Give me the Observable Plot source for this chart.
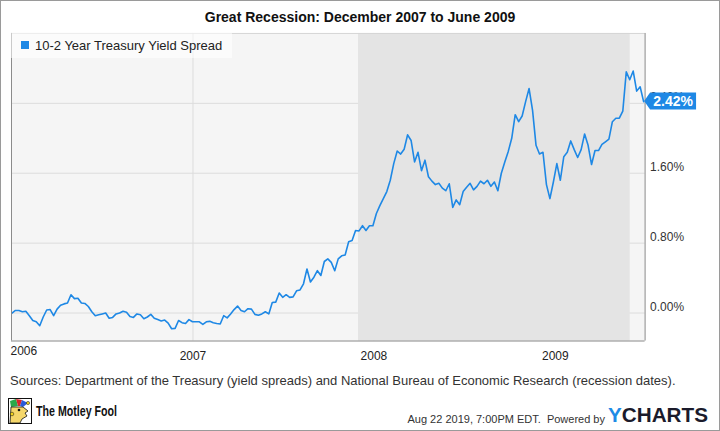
<!DOCTYPE html>
<html><head><meta charset="utf-8">
<script src="https://cdn.jsdelivr.net/npm/d3@7"></script>
<script src="https://cdn.jsdelivr.net/npm/@observablehq/plot@0.6"></script>
<style>
html,body{margin:0;padding:0;background:#fff;}
#wrap{position:relative;width:720px;height:431px;box-sizing:border-box;border:1px solid #9a9a9a;font-family:"Liberation Sans",Arial,sans-serif;overflow:hidden;background:#fff;}
#title{position:absolute;left:-1px;top:8px;width:720px;text-align:center;font-weight:bold;font-size:14px;color:#111;}
#chart{position:absolute;left:-1px;top:-1px;}
#legend{position:absolute;left:10px;top:32px;width:221px;height:25px;background:rgba(255,255,255,0.55);}
#legend .sw{position:absolute;left:10px;top:8px;width:8px;height:8px;background:#1e88e5;}
#legend .lb{position:absolute;left:24px;top:5px;font-size:13px;color:#222;white-space:nowrap;line-height:15px;}
#sources{position:absolute;left:9px;top:372px;font-size:13px;color:#333;white-space:nowrap;line-height:16px;}
#stamp{position:absolute;right:114px;top:411px;font-size:11px;color:#333;white-space:nowrap;line-height:14px;}
#logos{position:absolute;left:-1px;top:-1px;}
</style></head>
<body>
<div id="wrap">
  <div id="chart"></div>
  <div id="title">Great Recession: December 2007 to June 2009</div>
  <div id="legend"><div class="sw"></div><div class="lb">10-2 Year Treasury Yield Spread</div></div>
  <div id="sources">Sources: Department of the Treasury (yield spreads) and National Bureau of Economic Research (recession dates).</div>
  <div id="stamp">Aug 22 2019, 7:00PM EDT.&nbsp; Powered by</div>
  <svg id="logos" width="720" height="431">
    <g transform="translate(8,398)">
      <rect x="0.5" y="0.5" width="23" height="25" fill="#fff" stroke="#111"/>
      <path d="M2,3 L8,1 L10,8 L3,9 Z" fill="#2aa84a"/>
      <path d="M8,1 L14,2 L12,8 L10,8 Z" fill="#d8262c"/>
      <path d="M14,2 L20,5 L15,9 L12,8 Z" fill="#2a5bd8"/>
      <circle cx="20" cy="5" r="1.6" fill="#f2d21b" stroke="#111" stroke-width="0.5"/>
      <path d="M3,9 L15,9 L20,13 L17,15 L19,18 L14,21 L12,25 L2,25 Z" fill="#f5d76b" stroke="#111" stroke-width="0.8"/>
      <circle cx="11" cy="12" r="1.3" fill="#111"/>
      <circle cx="4" cy="16" r="1.8" fill="#f2d21b" stroke="#111" stroke-width="0.5"/>
    </g>
    <text x="36" y="416" font-family="Liberation Sans, Arial, sans-serif" font-weight="bold" font-size="15" fill="#111" textLength="81" lengthAdjust="spacingAndGlyphs">The Motley Fool</text>
    <text x="608" y="421.5" font-family="Liberation Sans, Arial, sans-serif" font-weight="bold" font-size="20" textLength="100" lengthAdjust="spacingAndGlyphs"><tspan fill="#1e8be6">Y</tspan><tspan fill="#1b1b2b">CHARTS</tspan></text>
  </svg>
</div>
<script>
// ---- data (weekly 10-2 year Treasury spread, %) ----
const startDate = "2006-01-01";
const spread = [
  0.00, 0.03, 0.03, 0.015, 0.02, -0.03, -0.085, -0.10, -0.145, -0.045,
  0.035, 0.04, -0.03, 0.045, 0.09, 0.105, 0.115, 0.21, 0.165, 0.17,
  0.115, 0.11, 0.075, 0.015, -0.03, -0.02, -0.01, 0.00, -0.06, -0.05,
  -0.01, 0.00, 0.02, 0.01, -0.04, -0.05, -0.01, -0.02, -0.065, -0.045,
  -0.015, -0.06, -0.075, -0.09, -0.08, -0.115, -0.18, -0.175, -0.085, -0.11,
  -0.12, -0.075, -0.10, -0.10, -0.10, -0.13, -0.10, -0.095, -0.11, -0.12,
  -0.125, -0.03, -0.055, -0.01, 0.04, 0.08, 0.03, 0.015, 0.05, 0.045,
  -0.015, -0.025, -0.01, 0.015, -0.01, 0.12, 0.125, 0.23, 0.18, 0.21,
  0.18, 0.185, 0.255, 0.265, 0.335, 0.505, 0.355, 0.41, 0.485, 0.43,
  0.59, 0.62, 0.58, 0.485, 0.62, 0.655, 0.665, 0.815, 0.83, 0.945,
  0.94, 1.00, 0.945, 1.00, 1.00, 1.14, 1.23, 1.31, 1.39, 1.52,
  1.71, 1.855, 1.82, 1.875, 2.04, 1.975, 1.73, 1.84, 1.63, 1.75,
  1.56, 1.51, 1.47, 1.485, 1.43, 1.40, 1.48, 1.21, 1.295, 1.24,
  1.39, 1.44, 1.485, 1.41, 1.45, 1.51, 1.48, 1.52, 1.45, 1.50,
  1.40, 1.60, 1.73, 1.85, 2.00, 2.27, 2.19, 2.255, 2.42, 2.57,
  2.32, 1.92, 1.82, 1.84, 1.47, 1.31, 1.50, 1.71, 1.52, 1.79,
  1.84, 1.97, 1.87, 1.78, 1.87, 2.05, 1.92, 1.70, 1.86, 1.86,
  1.93, 1.96, 1.99, 2.19, 2.23, 2.23, 2.31, 2.76, 2.67, 2.77,
  2.54, 2.59, 2.42
];
const yTicks = [0, 0.8, 1.6, 2.4];
const yearTicks = ["2006-01-01", "2007-01-01", "2008-01-01", "2009-01-01"];
const recession = [{start: "2007-12-01", end: "2009-06-01"}];
const xDomain = ["2005-12-31", "2009-07-01"];
const yDomain = [-0.32, 3.2];

const parse = d3.timeParse("%Y-%m-%d");
const t0 = parse(startDate);
const data = spread.map((v, i) => ({date: d3.timeDay.offset(t0, 7 * i), value: v}));
const years = yearTicks.map(parse);
const xd = xDomain.map(parse);
const blue = "#1e88e5";

const chart = Plot.plot({
  width: 720,
  height: 370,
  marginTop: 33,
  marginLeft: 11,
  marginRight: 74.5,
  marginBottom: 29,
  style: {fontFamily: "Liberation Sans, Arial, sans-serif", fontSize: "12px", color: "#333", background: "transparent", overflow: "visible"},
  x: {type: "time", domain: xd, label: null},
  y: {domain: yDomain, label: null},
  marks: [
    Plot.frame({fill: "#f5f5f5", stroke: null}),
    Plot.gridX(years.slice(1), {stroke: "#dcdcdc", strokeOpacity: 1}),
    Plot.gridY(yTicks, {stroke: "#dcdcdc", strokeOpacity: 1}),
    Plot.rect(recession, {x1: d => parse(d.start), x2: d => parse(d.end), fill: "#e4e4e4"}),
    Plot.line(data, {x: "date", y: "value", stroke: blue, strokeWidth: 1.6}),
    Plot.ruleY([yDomain[1]], {stroke: "#d6d6d6"}),
    Plot.ruleX(xd, {stroke: "#8a8a8a"}),
    Plot.ruleY([yDomain[0]], {stroke: "#8a8a8a"}),
    Plot.axisY(yTicks, {anchor: "right", label: null, tickSize: 0, tickPadding: 5, dy: -6, tickFormat: d => d.toFixed(2) + "%", fill: "#333", fontSize: 12}),
    Plot.axisX(years.slice(1), {anchor: "bottom", label: null, tickSize: 0, tickPadding: 10, tickFormat: d => String(d.getFullYear()), fill: "#222", fontSize: 12}),
    Plot.text(years.slice(0, 1), {x: d => d, frameAnchor: "bottom", dy: 14, dx: -1.5, textAnchor: "start", text: d => String(d.getFullYear()), fill: "#222", fontSize: 12})
  ]
});
document.getElementById("chart").appendChild(chart);

// end-value callout, positioned through the plot's scales
const sx = chart.scale("x"), sy = chart.scale("y");
const last = data[data.length - 1];
const px = sx.apply(last.date) + 1, py = sy.apply(last.value);
const g = d3.select(chart).append("g");
const bx = px + 6, bw = 46, bh = 17;
g.append("path")
  .attr("d", `M${px},${py} L${bx},${py - bh / 2} L${bx + bw},${py - bh / 2} L${bx + bw},${py + bh / 2} L${bx},${py + bh / 2} Z`)
  .attr("fill", blue);
g.append("text")
  .attr("x", bx + bw / 2).attr("y", py + 5)
  .attr("text-anchor", "middle")
  .attr("fill", "#fff").attr("font-weight", "bold").attr("font-size", 14)
  .attr("font-family", "Liberation Sans, Arial, sans-serif")
  .text(last.value.toFixed(2) + "%");
</script>
</body></html>
